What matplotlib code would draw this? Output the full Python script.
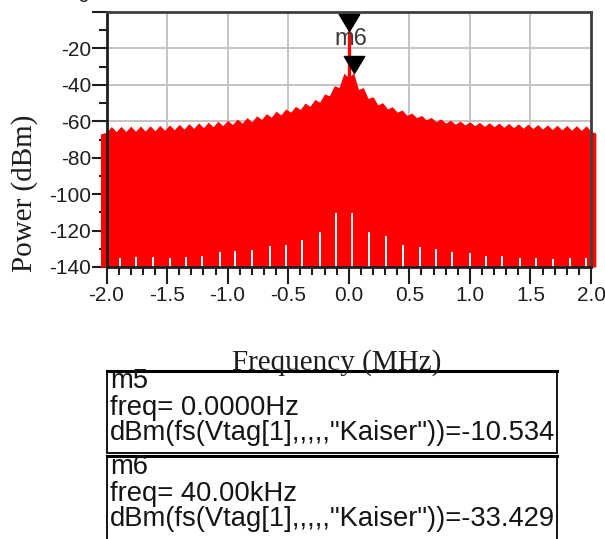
import matplotlib
matplotlib.use('Agg')
import matplotlib.pyplot as plt
from matplotlib.path import Path
from matplotlib.patches import Rectangle
from matplotlib.lines import Line2D

# ---------------- data ----------------
env_freq = [-2.05, -2.00, -1.96, -1.92, -1.88, -1.84, -1.80, -1.76, -1.72, -1.68, -1.64,
            -1.60, -1.56, -1.52, -1.48, -1.44, -1.40, -1.36, -1.32, -1.28, -1.24,
            -1.20, -1.16, -1.12, -1.08, -1.04, -1.00, -0.96, -0.92, -0.88, -0.84,
            -0.80, -0.76, -0.72, -0.68, -0.64, -0.60, -0.56, -0.52, -0.48, -0.44,
            -0.40, -0.36, -0.32, -0.28, -0.24, -0.20, -0.16, -0.12, -0.08, -0.04,
            0.00, 0.04, 0.08, 0.12, 0.16, 0.20, 0.24, 0.28, 0.32, 0.36,
            0.40, 0.44, 0.48, 0.52, 0.56, 0.60, 0.64, 0.68, 0.72, 0.76,
            0.80, 0.84, 0.88, 0.92, 0.96, 1.00, 1.04, 1.08, 1.12, 1.16,
            1.20, 1.24, 1.28, 1.32, 1.36, 1.40, 1.44, 1.48, 1.52, 1.56,
            1.60, 1.64, 1.68, 1.72, 1.76, 1.80, 1.84, 1.88, 1.92, 1.96,
            2.00, 2.04]
env_dbm = [-67.0, -66.0, -62.9, -65.7, -62.8, -65.6, -62.7, -65.5, -62.6, -65.4, -62.5,
           -65.2, -62.3, -64.9, -62.0, -64.6, -61.7, -64.3, -61.3, -63.9, -60.9,
           -63.5, -60.5, -63.0, -60.0, -62.4, -59.5, -61.8, -58.8, -61.0, -58.0,
           -60.3, -57.0, -59.0, -55.8, -57.8, -54.5, -56.5, -53.2, -55.0, -51.8,
           -53.5, -50.0, -51.8, -48.0, -49.5, -45.0, -46.0, -40.5, -41.5, -33.6,
           -36.0, -33.4, -42.5, -41.5, -47.5, -46.5, -51.0, -49.8, -53.2, -52.0,
           -55.0, -53.8, -56.7, -55.5, -58.0, -56.8, -59.2, -57.9, -60.2, -58.7,
           -61.0, -59.4, -61.6, -59.9, -62.0, -60.3, -62.4, -60.6, -62.8, -60.8,
           -63.0, -61.0, -63.3, -61.2, -63.5, -61.4, -63.8, -61.6, -64.0, -61.8,
           -64.3, -62.0, -64.5, -62.2, -64.7, -62.3, -64.9, -62.4, -65.0, -62.5,
           -65.5, -66.5]

gap_freq = [-1.89, -1.757, -1.62, -1.476, -1.34, -1.21, -1.064, -0.935, -0.797, -0.65,
            -0.514, -0.385, -0.24, -0.107, 0.03, 0.17, 0.31, 0.448, 0.59, 0.717,
            0.852, 0.998, 1.136, 1.268, 1.41, 1.548, 1.685, 1.828, 1.96]
gap_top = [-135.1, -134.5, -134.5, -135.0, -134.5, -133.7, -131.9, -131.4, -130.8, -128.6,
           -128.0, -125.2, -120.6, -110.6, -110.6, -120.6, -123.0, -128.0, -128.9, -130.2,
           -131.6, -132.5, -134.0, -134.0, -135.3, -135.3, -135.8, -135.3, -135.3]

marker_names = ['m5', 'm6']
marker_freq = [0.0, 0.04]
marker_dbm = [-10.534, -33.429]
marker_freq_text = ['0.0000Hz', '40.00kHz']

x_ticks = [-2.0, -1.5, -1.0, -0.5, 0.0, 0.5, 1.0, 1.5, 2.0]
x_tick_labels = ['-2.0', '-1.5', '-1.0', '-0.5', '0.0', '0.5', '1.0', '1.5', '2.0']
y_ticks = [-140, -120, -100, -80, -60, -40, -20, 0]
y_tick_labels = ['-140', '-120', '-100', '-80', '-60', '-40', '-20', '']
y_floor = -140

# ---------------- figure ----------------
W, H = 605, 539
fig = plt.figure(figsize=(W / 100, H / 100), dpi=100)
fig.patch.set_facecolor('white')

def fx(px):
    return px / W

def fy(py):
    return 1 - py / H

ax_l, ax_r, ax_t, ax_b = 106.5, 591, 12, 267
ax = fig.add_axes([fx(ax_l), fy(ax_b), (ax_r - ax_l) / W, (ax_b - ax_t) / H])
ax.set_xlim(-2, 2)
ax.set_ylim(-140, 0)

sans = ['Liberation Sans', 'DejaVu Sans']
serif = ['Liberation Serif', 'DejaVu Serif']
ink = '#1e1e1e'

ax.set_axisbelow(True)
ax.grid(True, which='major', color='#c4c4c4', lw=1.4)

ax.fill_between(env_freq, y_floor, env_dbm, color='#ff0000', lw=0, clip_on=False, zorder=2)
ax.vlines(gap_freq, y_floor, gap_top, colors='white', lw=1.4, zorder=2.2)
ax.plot([marker_freq[0], marker_freq[0]], [y_floor, marker_dbm[0]], color='#ff0000', lw=2.4,
        zorder=2.3, solid_capstyle='butt')

tri = Path([(-0.6, 1.0), (0.6, 1.0), (0.0, 0.0), (-0.6, 1.0)],
           [Path.MOVETO, Path.LINETO, Path.LINETO, Path.CLOSEPOLY])
ax.plot(marker_freq, marker_dbm, ls='none', marker=tri, ms=24.5, color='black',
        mec='black', clip_on=False, zorder=5)

fig.text(fx(351), fy(39), marker_names[1], ha='center', va='center', color='#3a3a3a',
         family=sans, size=17, zorder=6)

ax.set_xticks(x_ticks)
ax.set_xticklabels(x_tick_labels, family=sans, size=15)
ax.set_xticks([v / 10 for v in range(-20, 21)], minor=True)
ax.set_yticks(y_ticks)
ax.set_yticklabels(y_tick_labels, family=sans, size=15)
ax.set_yticks(list(range(-140, 1, 10)), minor=True)
ax.tick_params(which='major', direction='out', length=11, width=1.5, color=ink,
               labelcolor=ink, pad=0)
ax.tick_params(which='minor', direction='out', length=6, width=1.5, color=ink)
ax.tick_params(axis='x', which='major', length=12, pad=2)

for s in ['left', 'bottom']:
    ax.spines[s].set_color(ink)
    ax.spines[s].set_linewidth(2.0)
for s in ['top', 'right']:
    ax.spines[s].set_color('#404040')
    ax.spines[s].set_linewidth(2.0)

fig.text(fx(89), fy(-4), '0', ha='right', va='center', family=sans, size=15, color=ink)

fig.text(fx(25), fy(193), 'Power (dBm)', rotation=90, ha='center', va='center',
         family=serif, size=21, color=ink)
fig.text(fx(337), fy(363), 'Frequency (MHz)', ha='center', va='center',
         family=serif, size=21, color=ink)

# marker readout boxes
box_l, box_r = 107, 557
boxes = [(371, 453), (456, 545)]
for (top, bot) in boxes:
    fig.add_artist(Rectangle((fx(box_l), fy(bot)), (box_r - box_l) / W, (bot - top) / H,
                             transform=fig.transFigure, fill=False, lw=1.3, ec='black',
                             clip_on=False))
    fig.add_artist(Line2D([fx(box_l), fx(box_r)], [fy(top), fy(top)],
                          transform=fig.transFigure, color='black', lw=2.2))

line_y = [(381, 408, 433), (467, 494, 519)]
for i in range(2):
    y1, y2, y3 = line_y[i]
    fig.text(fx(110), fy(y1), marker_names[i], ha='left', va='center', family=sans,
             size=19.7, color='#141414')
    fig.text(fx(110), fy(y2), 'freq= ' + marker_freq_text[i], ha='left', va='center',
             family=sans, size=19.7, color='#141414')
    fig.text(fx(110), fy(y3), 'dBm(fs(Vtag[1],,,,,"Kaiser"))=%.3f' % marker_dbm[i],
             ha='left', va='center', family=sans, size=19.7, color='#141414')

fig.savefig('out.png', dpi=100)
